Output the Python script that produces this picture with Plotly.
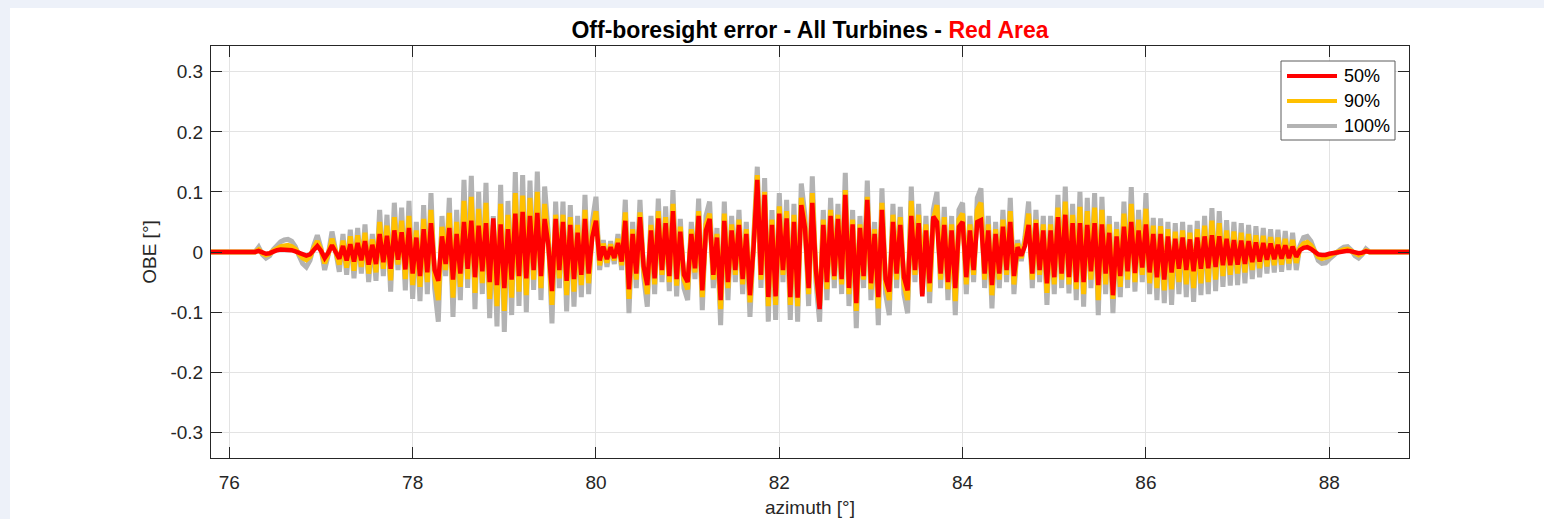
import numpy as np
import plotly.graph_objects as go

# Azimuth sampling: flat lead-in / lead-out plus a uniform grid over the active sweep
AZ_START, AZ_END = 75.8, 88.87
GRID_FIRST, GRID_STEP = 76.28, 0.04

# Off-boresight error [deg], 100th percentile over all turbines
obe_100 = (
    [0.0, 0.008, -0.004, -0.010, -0.006, 0.004, 0.012, 0.017, 0.020, 0.021, 0.018, 0.009, -0.006, -0.019, -0.025, -0.014, 0.010, 0.028, 0.006, -0.030, -0.004, 0.034, 0.002, -0.033, 0.030]
    + [-0.038, 0.037, -0.044, 0.040, -0.036, 0.046, -0.050, 0.030, -0.048, 0.070, -0.040, 0.062, -0.066, 0.082, -0.030, 0.074, -0.064, 0.085, -0.078, 0.050, -0.082, 0.078, -0.070, 0.098, -0.060]
    + [-0.116, 0.060, -0.040, 0.090, -0.108, 0.070, -0.080, 0.120, -0.060, 0.127, -0.095, 0.100, -0.070, 0.115, -0.110, 0.060, -0.124, 0.112, -0.133, 0.085, -0.105, 0.133, -0.090, 0.128, -0.100]
    + [0.119, -0.063, 0.134, -0.080, 0.109, 0.030, -0.119, 0.084, -0.060, 0.084, -0.099, 0.078, -0.091, 0.060, -0.075, 0.095, -0.070, 0.050, 0.092, -0.030, 0.020, -0.025, 0.018, -0.020, 0.030]
    + [-0.030, 0.087, -0.102, 0.050, -0.060, 0.087, -0.040, -0.091, 0.060, -0.070, 0.089, -0.050, 0.076, -0.065, 0.103, -0.074, 0.055, -0.060, -0.080, 0.050, -0.045, 0.089, -0.097, 0.060, 0.084]
    + [-0.060, 0.040, -0.122, 0.084, -0.080, 0.060, -0.050, 0.070, -0.070, 0.050, -0.108, 0.020, 0.142, -0.060, 0.123, -0.116, 0.070, -0.113, 0.098, -0.050, 0.087, -0.113, 0.080, -0.116, 0.114]
    + [0.060, -0.090, 0.126, -0.050, -0.116, 0.070, -0.080, 0.090, -0.060, 0.080, -0.070, 0.132, -0.090, 0.070, -0.127, 0.060, -0.060, 0.119, -0.080, 0.050, -0.122, 0.106, -0.070, -0.105, 0.080]
    + [-0.060, 0.075, -0.070, -0.102, 0.109, -0.050, 0.080, -0.070, 0.060, -0.085, 0.070, 0.100, -0.060, 0.075, -0.080, 0.060, -0.105, 0.070, 0.082, -0.070, 0.060, -0.050, 0.090, 0.106, -0.060]
    + [0.060, -0.094, 0.050, -0.060, 0.070, -0.050, 0.090, -0.070, 0.020, -0.015, 0.025, 0.084, -0.060, 0.070, -0.050, 0.060, -0.088, 0.060, -0.070, 0.095, -0.060, 0.109, -0.069, 0.080, -0.080]
    + [0.100, -0.091, 0.090, -0.060, 0.098, -0.105, 0.092, -0.070, 0.060, -0.102, 0.050, -0.075, 0.084, -0.060, 0.108, -0.066, 0.070, -0.050, 0.098, -0.070, 0.057, -0.080, 0.056, -0.085, 0.050]
    + [-0.088, 0.048, -0.070, 0.050, -0.075, 0.045, -0.083, 0.052, -0.072, 0.060, -0.070, 0.073, -0.065, 0.068, -0.058, 0.053, -0.056, 0.050, -0.055, 0.048, -0.052, 0.045, -0.045, 0.043, -0.042]
    + [0.040, -0.036, 0.038, -0.034, 0.037, -0.033, 0.035, -0.030, 0.032, -0.030, 0.010, 0.024, 0.026, 0.018, 0.000, -0.014, -0.019, -0.018, -0.012, -0.006, 0.000, 0.004, 0.008, 0.009, 0.003]
    + [-0.006, -0.010, -0.004, 0.005, 0.0]
)

# 90th percentile
obe_90 = (
    [0.0, 0.004, -0.002, -0.005, -0.003, 0.002, 0.006, 0.009, 0.010, 0.011, 0.009, 0.005, -0.003, -0.010, -0.013, -0.008, 0.006, 0.018, 0.004, -0.019, -0.003, 0.022, 0.001, -0.021, 0.019]
    + [-0.026, 0.026, -0.031, 0.028, -0.025, 0.032, -0.036, 0.021, -0.034, 0.050, -0.028, 0.044, -0.047, 0.058, -0.021, 0.052, -0.045, 0.060, -0.055, 0.036, -0.058, 0.055, -0.050, 0.070, -0.042]
    + [-0.080, 0.042, -0.030, 0.065, -0.076, 0.050, -0.058, 0.085, -0.045, 0.092, -0.068, 0.072, -0.052, 0.082, -0.078, 0.045, -0.090, 0.080, -0.098, 0.062, -0.076, 0.098, -0.066, 0.094, -0.072]
    + [0.090, -0.046, 0.100, -0.060, 0.080, 0.020, -0.088, 0.062, -0.044, 0.062, -0.072, 0.058, -0.066, 0.045, -0.055, 0.070, -0.052, 0.036, 0.068, -0.022, 0.014, -0.018, 0.013, -0.014, 0.022]
    + [-0.022, 0.066, -0.078, 0.038, -0.046, 0.066, -0.030, -0.070, 0.045, -0.054, 0.068, -0.038, 0.058, -0.050, 0.080, -0.056, 0.042, -0.046, -0.062, 0.038, -0.034, 0.068, -0.075, 0.046, 0.064]
    + [-0.046, 0.030, -0.095, 0.064, -0.060, 0.046, -0.038, 0.054, -0.054, 0.038, -0.084, 0.015, 0.128, -0.046, 0.100, -0.090, 0.054, -0.088, 0.076, -0.038, 0.068, -0.088, 0.062, -0.090, 0.090]
    + [0.046, -0.070, 0.098, -0.038, -0.090, 0.054, -0.062, 0.070, -0.046, 0.062, -0.054, 0.103, -0.070, 0.054, -0.098, 0.046, -0.046, 0.092, -0.062, 0.038, -0.094, 0.082, -0.054, -0.080, 0.062]
    + [-0.046, 0.058, -0.054, -0.080, 0.085, -0.038, 0.062, -0.054, 0.046, -0.066, 0.054, 0.078, -0.046, 0.058, -0.062, 0.046, -0.082, 0.054, 0.064, -0.054, 0.046, -0.038, 0.070, 0.082, -0.046]
    + [0.046, -0.072, 0.038, -0.046, 0.054, -0.038, 0.068, -0.054, 0.014, -0.010, 0.018, 0.064, -0.046, 0.054, -0.038, 0.046, -0.068, 0.046, -0.054, 0.074, -0.046, 0.084, -0.054, 0.062, -0.062]
    + [0.075, -0.070, 0.068, -0.046, 0.074, -0.080, 0.070, -0.054, 0.046, -0.078, 0.038, -0.058, 0.064, -0.046, 0.080, -0.050, 0.054, -0.038, 0.072, -0.052, 0.044, -0.060, 0.043, -0.064, 0.038]
    + [-0.062, 0.034, -0.050, 0.036, -0.054, 0.032, -0.060, 0.038, -0.052, 0.044, -0.050, 0.052, -0.046, 0.048, -0.040, 0.036, -0.038, 0.034, -0.036, 0.032, -0.034, 0.030, -0.030, 0.028, -0.027]
    + [0.027, -0.024, 0.025, -0.022, 0.024, -0.021, 0.022, -0.019, 0.020, -0.018, 0.006, 0.014, 0.016, 0.011, 0.000, -0.008, -0.011, -0.010, -0.007, -0.003, 0.000, 0.002, 0.004, 0.005, 0.002]
    + [-0.003, -0.005, -0.002, 0.002, 0.0]
)

# 50th percentile
obe_50 = (
    [0.0, 0.002, -0.001, -0.003, -0.002, 0.001, 0.003, 0.004, 0.004, 0.004, 0.003, 0.001, -0.002, -0.005, -0.006, -0.004, 0.003, 0.010, 0.002, -0.010, -0.001, 0.011, 0.000, -0.011, 0.010]
    + [-0.014, 0.013, -0.016, 0.015, -0.014, 0.018, -0.021, 0.012, -0.020, 0.030, -0.017, 0.027, -0.028, 0.036, -0.013, 0.033, -0.029, 0.040, -0.036, 0.024, -0.040, 0.038, -0.034, 0.048, -0.030]
    + [-0.048, 0.026, -0.020, 0.040, -0.046, 0.030, -0.036, 0.050, -0.028, 0.052, -0.042, 0.044, -0.032, 0.048, -0.050, 0.056, -0.055, 0.046, -0.060, 0.038, -0.046, 0.064, -0.040, 0.067, -0.044]
    + [0.060, -0.030, 0.065, -0.040, 0.055, 0.012, -0.065, 0.055, -0.030, 0.050, -0.048, 0.045, -0.045, 0.032, -0.038, 0.055, -0.036, 0.025, 0.052, -0.014, 0.009, -0.012, 0.008, -0.010, 0.015]
    + [-0.016, 0.052, -0.062, 0.030, -0.036, 0.058, -0.024, -0.055, 0.036, -0.044, 0.056, -0.030, 0.048, -0.040, 0.068, -0.045, 0.034, -0.038, -0.050, 0.030, -0.027, 0.060, -0.064, 0.036, 0.055]
    + [-0.038, 0.024, -0.080, 0.052, -0.050, 0.036, -0.030, 0.045, -0.045, 0.030, -0.072, 0.010, 0.120, -0.038, 0.095, -0.075, 0.045, -0.074, 0.064, -0.030, 0.056, -0.075, 0.050, -0.076, 0.078]
    + [0.040, -0.060, 0.082, -0.030, -0.095, 0.045, -0.050, 0.060, -0.040, 0.055, -0.045, 0.095, -0.060, 0.046, -0.085, 0.040, -0.040, 0.087, -0.052, 0.030, -0.075, 0.070, -0.045, -0.066, 0.050]
    + [-0.036, 0.045, -0.042, -0.064, 0.060, -0.030, 0.048, -0.074, 0.036, -0.052, 0.059, 0.050, -0.036, 0.045, -0.050, 0.036, -0.060, 0.042, 0.050, -0.042, 0.036, -0.030, 0.050, 0.053, -0.036]
    + [0.036, -0.055, 0.030, -0.036, 0.042, -0.030, 0.050, -0.040, 0.008, -0.006, 0.010, 0.045, -0.036, 0.048, -0.030, 0.036, -0.052, 0.036, -0.042, 0.058, -0.036, 0.062, -0.042, 0.048, -0.050]
    + [0.048, -0.050, 0.045, -0.032, 0.048, -0.055, 0.046, -0.036, 0.032, -0.072, 0.026, -0.040, 0.042, -0.032, 0.050, -0.035, 0.036, -0.026, 0.046, -0.034, 0.030, -0.042, 0.030, -0.046, 0.026]
    + [-0.034, 0.022, -0.028, 0.024, -0.030, 0.021, -0.032, 0.024, -0.028, 0.026, -0.027, 0.028, -0.025, 0.026, -0.022, 0.022, -0.022, 0.020, -0.021, 0.019, -0.020, 0.018, -0.017, 0.016, -0.016]
    + [0.015, -0.013, 0.014, -0.012, 0.012, -0.011, 0.011, -0.010, 0.009, -0.008, 0.003, 0.007, 0.008, 0.005, 0.000, -0.004, -0.005, -0.005, -0.003, -0.002, 0.000, 0.001, 0.002, 0.002, 0.001]
    + [-0.001, -0.002, -0.001, 0.001, 0.0]
)

x_ticks = [76, 78, 80, 82, 84, 86, 88]
y_ticks = [-0.3, -0.2, -0.1, 0, 0.1, 0.2, 0.3]
y_tick_labels = ["-0.3", "-0.2", "-0.1", "0", "0.1", "0.2", "0.3"]

# drawn back to front; legend lists them front to back
series = [
    ("100%", obe_100, "#b3b3b3", 5),
    ("90%", obe_90, "#ffc000", 5),
    ("50%", obe_50, "#ff0000", 4.5),
]

FONT = "Liberation Sans, Arial, Helvetica, sans-serif"
AX = "#262626"

# plot-area geometry in pixels, used to place the frame strips and the legend box
W, H = 1544, 519
L, R, T, B = 211, 135, 46, 61
PW, PH = W - L - R, H - T - B


def px(xp):
    return (xp - L) / PW


def py(yp):
    return (H - B - yp) / PH


fig = go.Figure()
for name, vals, color, width in series:
    grid = np.round(GRID_FIRST + GRID_STEP * np.arange(len(vals)), 2)
    x = [AZ_START] + list(grid) + [AZ_END]
    y = [0.0] + list(vals) + [0.0]
    fig.add_trace(go.Scatter(x=x, y=y, mode="lines", name=name, showlegend=False,
                             line=dict(color=color, width=width)))

axis_common = dict(
    showline=True, linecolor=AX, linewidth=1, mirror="ticks",
    ticks="inside", ticklen=11, tickcolor=AX, tickwidth=1,
    showgrid=True, gridcolor="#e3e3e3", gridwidth=1, automargin=False,
    zeroline=False, tickfont=dict(family=FONT, size=19, color=AX),
)

shapes = [
    # light frame strips along the top and left edges of the figure window
    dict(type="rect", xref="paper", yref="paper", x0=px(0), x1=px(W), y0=py(8), y1=py(0),
         fillcolor="#edf1f9", line=dict(width=0), layer="below"),
    dict(type="rect", xref="paper", yref="paper", x0=px(0), x1=px(10), y0=py(H), y1=py(0),
         fillcolor="#edf1f9", line=dict(width=0), layer="below"),
    # legend box
    dict(type="rect", xref="paper", yref="paper", x0=px(1281), x1=px(1395), y0=py(140), y1=py(61),
         fillcolor="white", line=dict(color="#5c5c5c", width=1), layer="above"),
]
annotations = []
legend_rows = [76, 101, 126]
for (name, _, color, width), row in zip(series[::-1], legend_rows):
    shapes.append(dict(type="line", xref="paper", yref="paper", x0=px(1287), x1=px(1337),
                       y0=py(row), y1=py(row), line=dict(color=color, width=4), layer="above"))
    annotations.append(dict(text=name, xref="paper", yref="paper", x=px(1342), y=py(row),
                            xanchor="left", yanchor="middle", showarrow=False,
                            font=dict(family=FONT, size=18, color="#000000")))

fig.update_layout(
    width=W, height=H,
    margin=dict(l=L, r=R, t=T, b=B),
    paper_bgcolor="white", plot_bgcolor="white",
    showlegend=False,
    title=dict(
        text="<b>Off-boresight error - All Turbines - <span style='color:#ff0000'>Red Area</span></b>",
        x=0.5, xref="paper", xanchor="center", y=1 - 30 / H, yanchor="middle",
        font=dict(family=FONT, size=23, color="#000000"),
    ),
    xaxis=dict(range=[AZ_START, AZ_END], tickvals=x_ticks, ticklabelstandoff=7,
               title=dict(text="azimuth [°]", font=dict(family=FONT, size=19, color=AX), standoff=8),
               **axis_common),
    yaxis=dict(range=[-0.343, 0.343], tickvals=y_ticks, ticktext=y_tick_labels, ticklabelstandoff=3,
               title=dict(text="OBE [°]", font=dict(family=FONT, size=19, color=AX), standoff=8),
               **axis_common),
    shapes=shapes,
    annotations=annotations,
)

fig.write_html("out.html")
